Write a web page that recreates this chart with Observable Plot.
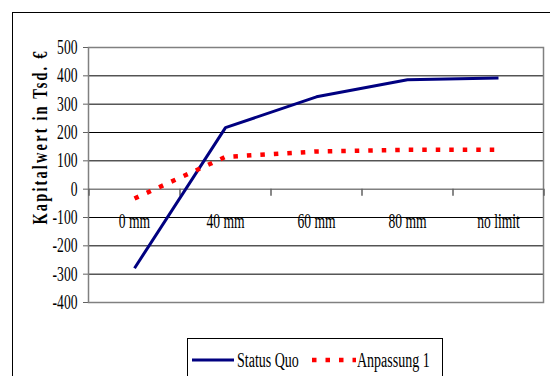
<!DOCTYPE html>
<html>
<head>
<meta charset="utf-8">
<script src="https://cdn.jsdelivr.net/npm/d3@7"></script>
<script src="https://cdn.jsdelivr.net/npm/@observablehq/plot@0.6"></script>
<style>
  html, body { margin: 0; padding: 0; background: #fff; }
  #wrap { position: relative; width: 550px; height: 376px; overflow: hidden; background: #fff; }
  #frame { position: absolute; left: 12px; top: 12px; width: 600px; height: 400px; border: 1px solid #000; box-sizing: border-box; }
  #chart { position: absolute; left: 0; top: 0; }
  #ytitle { position: absolute; left: 40px; top: 137px; white-space: nowrap; font-family: "Liberation Serif", serif; font-weight: bold; font-size: 20px; letter-spacing: 3px; transform: translate(-50%, -50%) rotate(-90deg) scaleX(0.72); line-height: 20px; }
  #legend { position: absolute; left: 187px; top: 338px; width: 256px; height: 50px; border: 1px solid #000; box-sizing: border-box; background: #fff; font-family: "Liberation Serif", serif; font-size: 20px; }
  #legend .sw { position: absolute; top: 17px; }
  #legend .lab { position: absolute; top: 10px; white-space: nowrap; transform: scaleX(0.7); transform-origin: left center; line-height: 22px; }
</style>
</head>
<body>
<div id="wrap">
  <div id="frame"></div>
  <div id="chart"></div>
  <div id="ytitle"></div>
  <div id="legend"></div>
</div>
<script>
const categories = ["0 mm", "40 mm", "60 mm", "80 mm", "no limit"];
const statusQuo = [-279, 217, 326, 386, 392];
const anpassung1 = [-33, 114, 133, 139, 139];
const seriesNames = ["Status Quo", "Anpassung 1"];
const seriesColors = ["#000080", "#ff0000"];
const yTicks = [-400, -300, -200, -100, 0, 100, 200, 300, 400, 500];
const yTitle = "Kapitalwert in Tsd. €";

const rowsS = categories.map((c, i) => ({cat: c, value: statusQuo[i], series: seriesNames[0]}));
const rowsA = categories.map((c, i) => ({cat: c, value: anpassung1[i], series: seriesNames[1]}));

const plot = Plot.plot({
  width: 550,
  height: 330,
  marginLeft: 88,
  marginRight: 7,
  marginTop: 47,
  marginBottom: 28,
  style: {fontFamily: "Liberation Serif, serif", fontSize: "20px", background: "transparent", color: "#000"},
  x: {type: "point", domain: categories, padding: 0.5, axis: null},
  y: {domain: [-400, 500], ticks: yTicks, tickSize: 5, tickPadding: 6, tickFormat: d => String(d), label: null},
  marks: [
    Plot.ruleY(yTicks.filter(d => d !== 0 && d !== -400 && d !== 500), {stroke: "#000", strokeWidth: 1}),
    Plot.frame({stroke: "#808080", strokeWidth: 1.5}),
    Plot.ruleY([0], {stroke: "#808080", strokeWidth: 1.5}),
    Plot.ruleX(categories, {x: d => d, y1: d => 0, y2: d => -25, dx: -45.5, stroke: "#606060", strokeWidth: 1.5}),
    Plot.ruleX(categories.slice(-1), {x: d => d, y1: d => 0, y2: d => -25, dx: 45.5, stroke: "#606060", strokeWidth: 1.5}),
    Plot.text(categories, {x: d => d, y: d => 0, dy: 32, text: d => d, fill: "#000"}),
    Plot.line(rowsS, {x: "cat", y: "value", stroke: seriesColors[0], strokeWidth: 3, strokeLinecap: "butt", strokeLinejoin: "miter"}),
    Plot.line(rowsA, {x: "cat", y: "value", stroke: seriesColors[1], strokeWidth: 4.5, strokeDasharray: "4.5,9", strokeLinecap: "butt"})
  ]
});
document.getElementById("chart").appendChild(plot);

plot.querySelectorAll("g[aria-label='y-axis'] path, g[aria-label='y-axis tick'] path").forEach(p => p.setAttribute("stroke", "#606060"));

// horizontally condense all text (narrow Times look)
plot.querySelectorAll("text").forEach(t => {
  const x = parseFloat(t.getAttribute("x") || 0);
  const tr = t.getAttribute("transform") || "";
  t.setAttribute("transform", tr + ` translate(${x},0) scale(0.68,1) translate(${-x},0)`);
});

document.getElementById("ytitle").textContent = yTitle;

const legend = document.getElementById("legend");
legend.innerHTML = `
  <svg class="sw" style="left:4px" width="42" height="8"><line x1="0" x2="42" y1="4" y2="4" stroke="${seriesColors[0]}" stroke-width="3"/></svg>
  <span class="lab" style="left:49px">${seriesNames[0]}</span>
  <svg class="sw" style="left:124px" width="44" height="8"><line x1="0" x2="44" y1="4" y2="4" stroke="${seriesColors[1]}" stroke-width="4.5" stroke-dasharray="4.5,9"/></svg>
  <span class="lab" style="left:169px">${seriesNames[1]}</span>`;
</script>
</body>
</html>
